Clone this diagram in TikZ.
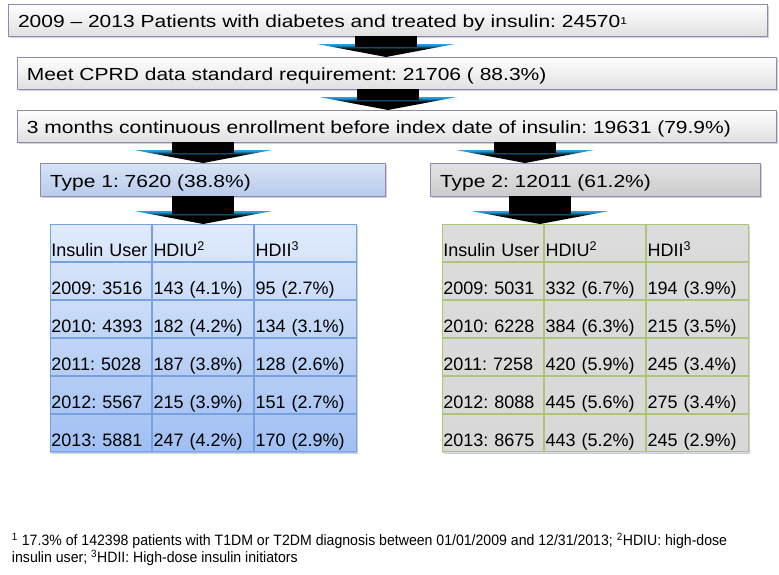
\documentclass[tikz,border=0pt]{standalone}
\usepackage{fontspec}
\setmainfont{Liberation Sans}
\newfontfamily\boxfont[FakeStretch=1.2]{Liberation Sans}
\newfontfamily\notefont[FakeStretch=0.94]{Liberation Sans}
\usetikzlibrary{positioning, matrix, fit, backgrounds, calc, shadows}
\frenchspacing

\definecolor{boxline}{RGB}{150,134,178}
\definecolor{arrowblue}{RGB}{38,158,226}
\definecolor{typeonetop}{RGB}{216,228,246}
\definecolor{typeonebot}{RGB}{184,203,236}
\definecolor{toneonetop}{RGB}{224,235,252}
\definecolor{toneonebot}{RGB}{160,191,242}
\definecolor{gridone}{RGB}{118,160,222}
\definecolor{gridtwo}{RGB}{170,198,118}
\definecolor{tonetwo}{RGB}{216,216,216}

\pgfdeclareverticalshading{headfade}{100bp}{color(0bp)=(black); color(56bp)=(black);
  color(72bp)=(arrowblue); color(100bp)=(arrowblue)}

% block arrow: x reference, source node, target node
\newcommand\blockarr[3]{%
  \shade[headshade] ($(#1 |- #3.north)+(-69,13)$) -- ($(#1 |- #3.north)+(69,13)$)
    -- (#1 |- #3.north) -- cycle;
  \fill[black] ($(#1 |- #2.south)+(-31,0)$) rectangle ($(#1 |- #3.north)+(31,10)$);
}
\newcommand\smallsup[1]{\raisebox{3.5pt}{\fontsize{10pt}{10pt}\selectfont #1}}

\begin{document}
\begin{tikzpicture}[
  x=1pt, y=1pt,
  every node/.style={inner sep=0pt, outer sep=0pt},
  boxshadow/.style={drop shadow={shadow xshift=2pt, shadow yshift=-2pt,
                                 opacity=.3, fill=black!60}},
  stepbox/.style={draw=boxline, line width=0.8pt,
                  top color=white, bottom color=black!12,
                  text width=739pt, align=left, inner xsep=10pt,
                  minimum height=32pt, text height=18pt, text depth=3pt,
                  font=\boxfont\fontsize{17.5pt}{21pt}\selectfont, boxshadow},
  typebox/.style={stepbox, minimum height=33pt},
  cell/.style={line width=0.8pt, text width=99.3pt, inner xsep=1pt,
               align=left, text height=32.2pt, text depth=5pt,
               font=\fontsize{18pt}{21pt}\selectfont},
  headshade/.style={shading=headfade},
]
\path[use as bounding box] (0,0) rectangle (779,-574);

%% flow boxes
\node[stepbox, anchor=north west] (pat) at (8,-4)
  {2009 – 2013 Patients with diabetes and treated by insulin: 24570\smallsup{1}};
\node[stepbox, below right=21pt and 9pt of pat.south west] (cprd)
  {Meet CPRD data standard requirement: 21706 ( 88.3\%)};
\node[stepbox, below right=21pt and 0pt of cprd.south west] (enrol)
  {3 months continuous enrollment before index date of insulin: 19631 (79.9\%)};

\node[typebox, text width=325pt, top color=typeonetop, bottom color=typeonebot,
      below right=21pt and 23pt of enrol.south west] (t1) {Type 1: 7620 (38.8\%)};
\node[typebox, text width=310pt, top color=black!11, bottom color=black!20,
      right=45pt of t1] (t2) {Type 2: 12011 (61.2\%)};

%% tables
\matrix (tab1) [matrix of nodes, inner sep=0pt, nodes={cell, draw=gridone},
                below right=28pt and 10pt of t1.south west] {
  Insulin User & HDIU\textsuperscript{2} & HDII\textsuperscript{3} \\
  2009: 3516 & 143 (4.1\%) & 95 (2.7\%) \\
  2010: 4393 & 182 (4.2\%) & 134 (3.1\%) \\
  2011: 5028 & 187 (3.8\%) & 128 (2.6\%) \\
  2012: 5567 & 215 (3.9\%) & 151 (2.7\%) \\
  2013: 5881 & 247 (4.2\%) & 170 (2.9\%) \\
};
\matrix (tab2) [matrix of nodes, inner sep=0pt, nodes={cell, draw=gridtwo},
                below right=28pt and 12pt of t2.south west] {
  Insulin User & HDIU\textsuperscript{2} & HDII\textsuperscript{3} \\
  2009: 5031 & 332 (6.7\%) & 194 (3.9\%) \\
  2010: 6228 & 384 (6.3\%) & 215 (3.5\%) \\
  2011: 7258 & 420 (5.9\%) & 245 (3.4\%) \\
  2012: 8088 & 445 (5.6\%) & 275 (3.4\%) \\
  2013: 8675 & 443 (5.2\%) & 245 (2.9\%) \\
};

\begin{scope}[on background layer]
  \node[fit=(tab1), top color=toneonetop, bottom color=toneonebot, boxshadow] (tab1bg) {};
  \node[fit=(tab2), top color=tonetwo!90, bottom color=tonetwo, boxshadow] (tab2bg) {};
\end{scope}

%% arrows
\coordinate (xa) at (386,0);
\coordinate (xb) at (388,0);
\coordinate (xc) at (525,0);
\coordinate (xd) at (540,0);
\blockarr{xa}{pat}{cprd}
\blockarr{xb}{cprd}{enrol}
\blockarr{tab1}{enrol}{t1}
\blockarr{xc}{enrol}{t2}
\blockarr{tab1}{t1}{tab1}
\blockarr{xd}{t2}{tab2}

%% footnote
\node[anchor=north west, align=left, font=\notefont\fontsize{15pt}{17pt}\selectfont]
  (note) at (12,-533)
  {\textsuperscript{1} 17.3\% of 142398 patients with T1DM or T2DM diagnosis between
   01/01/2009 and 12/31/2013; \textsuperscript{2}HDIU: high-dose\\
   insulin user; \textsuperscript{3}HDII: High-dose insulin initiators};

\end{tikzpicture}
\end{document}
